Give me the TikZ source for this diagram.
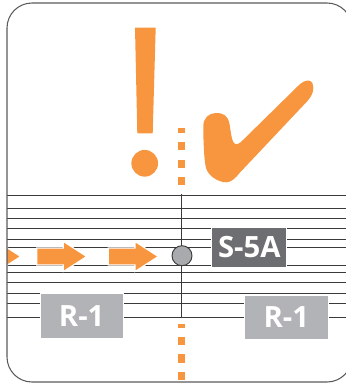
\documentclass[tikz,border=0pt]{standalone}
\usepackage{fontspec}
\newfontfamily\tagfont{Open Sans}
\usepackage{tikz}

\definecolor{signorange}{HTML}{F7963E}
\definecolor{darktag}{HTML}{6D6E71}
\definecolor{lighttag}{HTML}{B1B3B6}
\definecolor{railgray}{HTML}{3A3A3A}
\definecolor{framegray}{HTML}{5A5A5A}

\tikzset{
	rail/.style={railgray, line width=0.8pt},
	marker/.style={signorange, line width=6pt, dash pattern=on 7 off 8},
	tag/.style={draw=white, line width=0.8pt, text=white, inner sep=0pt,
		font=\tagfont\bfseries\fontsize{25}{25}\selectfont},
}

\begin{document}
\begin{tikzpicture}[x=0.03cm, y=-0.03cm]
		\useasboundingbox (0,0) rectangle (346,387);
		\clip (0,0) rectangle (346,387);
		\begin{scope}
			\clip[rounded corners=0.75cm] (7,3) rectangle (352,382);
			\foreach \y in {195, 208, 218.5, 228.5, 239, 247, 265, 272.5, 282.5, 293, 303, 317} {
				\draw[rail] (7,\y) -- (346,\y);
			}
			\draw[rail] (181.7,194) -- (181.7,317);
			\foreach \t in {20.7, 86.7, 158.3} {
				\filldraw[fill=signorange, draw=white, line width=1pt]
					(\t-50,248) -- (\t-23.3,248) -- (\t-23.3,241.5) -- (\t,256.5)
					-- (\t-23.3,271.5) -- (\t-23.3,265) -- (\t-50,265) -- cycle;
			}
		\end{scope}
		\draw[framegray, line width=0.9pt, rounded corners=0.75cm] (7,3) rectangle (352,382);
		% marker above and below the joint
		\draw[marker, dash phase=3] (181.7,128) -- (181.7,190);
		\draw[marker, dash phase=4] (181.7,324) -- (181.7,383);
		\node[circle, draw=railgray, line width=0.8pt, fill=lighttag!95!black, minimum size=0.6cm, inner sep=0pt] (joint) at (182,255.7) {};
		\node[tag, fill=darktag, minimum width=2.24cm, minimum height=1.21cm] (s5a) at (249.3,247.5) {S-5A};
		\node[tag, fill=lighttag, minimum width=2.5cm, minimum height=1.35cm] (r1left) at (81.7,315.8) {R-1};
		\node[tag, fill=lighttag, minimum width=2.52cm, minimum height=1.33cm] (r1right) at (286.3,317.2) {R-1};
		% exclamation mark
		\fill[signorange] (135,27.5) -- (155.7,27.5) -- (152.7,133.3) -- (137.3,133.3) -- cycle;
		\fill[signorange] (144.7,163.3) circle (0.4cm);
		% check mark
		\fill[signorange] (203.3,126) .. controls (203.3,118) and (209,113) .. (216,113)
			.. controls (224,113) and (228,116) .. (229.5,124)
			.. controls (231,132) and (231.5,144.3) .. (236.5,144.3)
			.. controls (238.5,144.3) and (240.5,142.5) .. (243,140)
			-- (298,86)
			.. controls (302,82) and (305.5,80.5) .. (308,80.5)
			.. controls (312,80.5) and (313.3,84) .. (313.3,88)
			.. controls (313.3,93) and (311,97) .. (307,101.5)
			-- (240,172.5)
			.. controls (236,177.5) and (231.5,182.3) .. (226.5,182.3)
			.. controls (218,182.3) and (208.5,176) .. (206,168)
			.. controls (204,160) and (203.3,140) .. cycle;
	\end{tikzpicture}
\end{document}
